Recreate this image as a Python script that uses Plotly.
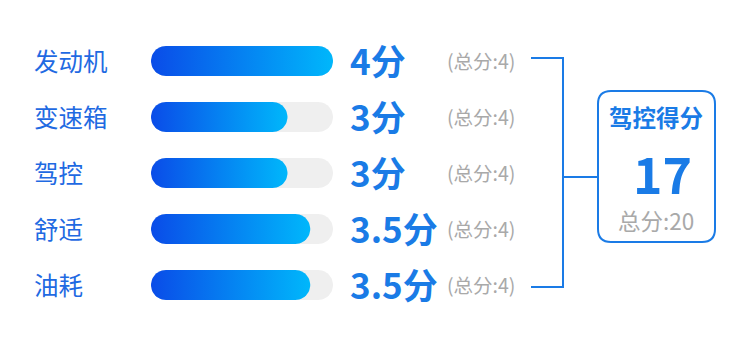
import numpy as np
import plotly.graph_objects as go

# ---- data ----
categories = ["发动机", "变速箱", "驾控", "舒适", "油耗"]
scores = [4, 3, 3, 3.5, 3.5]
max_scores = [4, 4, 4, 4, 4]
score_unit = "分"
total_prefix = "总分:"
summary_title = "驾控得分"

W, H = 750, 339
FONT = "Noto Sans CJK SC"
BLUE = "#1a7be6"
LABEL_BLUE = "#1f6ae2"
GREY = "#a9a9a9"

# pixel layout (style only)
X0_PX, X1_PX = 151, 333          # track extent for 0..max
ROW0_PX, ROW_STEP = 61, 56
BAR_R = 15

vmax = max(max_scores)
kx = (X1_PX - X0_PX) / vmax
ky = ROW_STEP
xrange = [-X0_PX / kx, (W - X0_PX) / kx]
yrange = [(H - ROW0_PX) / ky, -ROW0_PX / ky]


def pill(x0, x1, yc, r=BAR_R, n=24):
    rx, ry = r / kx, r / ky
    t1 = np.linspace(-np.pi / 2, np.pi / 2, n)
    t2 = np.linspace(np.pi / 2, 3 * np.pi / 2, n)
    xs = np.concatenate([x1 - rx + rx * np.cos(t1), x0 + rx + rx * np.cos(t2)])
    ys = np.concatenate([yc + ry * np.sin(t1), yc + ry * np.sin(t2)])
    return list(xs) + [xs[0]], list(ys) + [ys[0]]


fig = go.Figure()

# tracks
for i, m in enumerate(max_scores):
    xs, ys = pill(0, m, i)
    fig.add_trace(go.Scatter(x=xs, y=ys, fill="toself", fillcolor="#efefef",
                             mode="lines", line=dict(width=0), hoverinfo="skip",
                             showlegend=False))
# gradient bars
for i, s in enumerate(scores):
    xs, ys = pill(0, s, i)
    fig.add_trace(go.Scatter(x=xs, y=ys, fill="toself",
                             fillgradient=dict(type="horizontal",
                                               colorscale=[[0, "#0a4ce8"], [1, "#00b7fb"]]),
                             mode="lines", line=dict(width=0), hoverinfo="skip",
                             showlegend=False))


def px(x):
    return x / W


def py(y):
    return 1 - y / H


def fmt(v):
    return f"{v:g}"


ann = []
for i, (c, s, m) in enumerate(zip(categories, scores, max_scores)):
    ann.append(dict(x=px(32), xref="paper", y=i, yref="y", text=c, showarrow=False,
                    xanchor="left", yanchor="middle", yshift=1,
                    font=dict(family=FONT, size=24.5, color=LABEL_BLUE)))
    ann.append(dict(x=px(348), xref="paper", y=i, yref="y", text=f"<b>{fmt(s)}{score_unit}</b>",
                    showarrow=False, xanchor="left", yanchor="middle", yshift=2,
                    font=dict(family=FONT, size=35, color=BLUE)))
    ann.append(dict(x=px(445), xref="paper", y=i, yref="y", text=f"({total_prefix}{fmt(m)})",
                    showarrow=False, xanchor="left", yanchor="middle", yshift=1,
                    font=dict(family=FONT, size=19.5, color=GREY)))

total = sum(scores)
total_max = sum(max_scores)
ann.append(dict(x=px(656), xref="paper", y=py(117), yref="paper", text=f"<b>{summary_title}</b>",
                showarrow=False, xanchor="center", yanchor="middle",
                font=dict(family=FONT, size=23.5, color=BLUE)))
ann.append(dict(x=px(662), xref="paper", y=py(172), yref="paper", text=f"<b>{fmt(total)}</b>",
                showarrow=False, xanchor="center", yanchor="middle",
                font=dict(family=FONT, size=50, color=BLUE)))
ann.append(dict(x=px(656), xref="paper", y=py(220), yref="paper", text=f"{total_prefix}{fmt(total_max)}",
                showarrow=False, xanchor="center", yanchor="middle",
                font=dict(family=FONT, size=22.5, color=GREY)))

shapes = []
# bracket
brk = (f"M {px(531)},{py(58)} L {px(563)},{py(58)} L {px(563)},{py(287)} "
       f"L {px(531)},{py(287)} M {px(563)},{py(177)} L {px(598)},{py(177)}")
shapes.append(dict(type="path", xref="paper", yref="paper", path=brk,
                   line=dict(color=BLUE, width=2)))
# rounded box
bx0, bx1, by0, by1, r = 598, 715, 91, 242, 13
box = (f"M {px(bx0 + r)},{py(by0)} L {px(bx1 - r)},{py(by0)} "
       f"Q {px(bx1)},{py(by0)} {px(bx1)},{py(by0 + r)} "
       f"L {px(bx1)},{py(by1 - r)} Q {px(bx1)},{py(by1)} {px(bx1 - r)},{py(by1)} "
       f"L {px(bx0 + r)},{py(by1)} Q {px(bx0)},{py(by1)} {px(bx0)},{py(by1 - r)} "
       f"L {px(bx0)},{py(by0 + r)} Q {px(bx0)},{py(by0)} {px(bx0 + r)},{py(by0)} Z")
shapes.append(dict(type="path", xref="paper", yref="paper", path=box,
                   line=dict(color=BLUE, width=2), fillcolor="white"))

fig.update_layout(
    width=W, height=H, margin=dict(l=0, r=0, t=0, b=0),
    paper_bgcolor="white", plot_bgcolor="white",
    xaxis=dict(range=xrange, visible=False, fixedrange=True),
    yaxis=dict(range=yrange, visible=False, fixedrange=True),
    annotations=ann, shapes=shapes, showlegend=False,
)

fig.write_html("out.html")
